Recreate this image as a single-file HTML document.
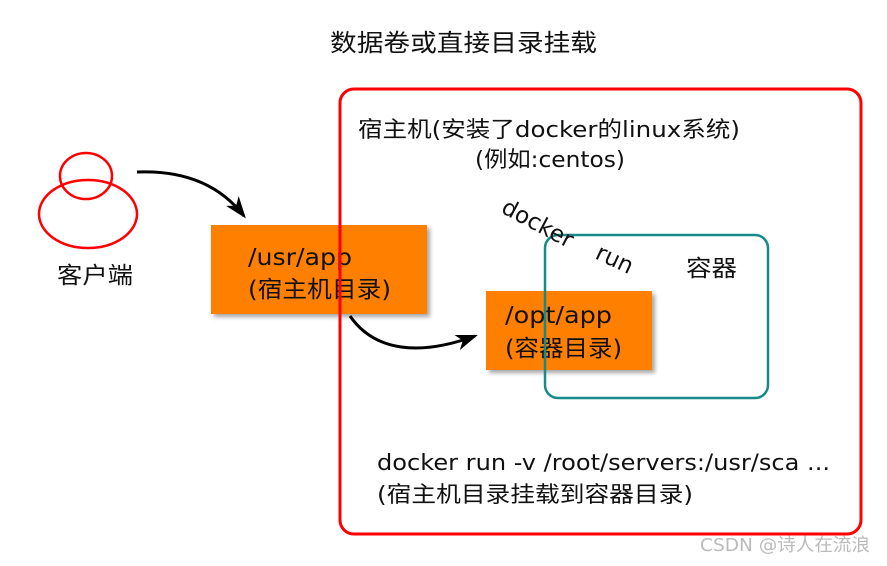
<!DOCTYPE html>
<html><head><meta charset="utf-8"><style>
body{margin:0;background:#fff;}
svg text{font-family:"DejaVu Sans","Noto Sans CJK SC",sans-serif;fill:#111;}
</style></head><body>
<svg width="887" height="561" viewBox="0 0 887 561" xmlns="http://www.w3.org/2000/svg">
<defs>
<filter id="sh" x="-10%" y="-10%" width="130%" height="130%"><feDropShadow dx="3" dy="3" stdDeviation="2" flood-color="#000" flood-opacity="0.35"/></filter>
<marker id="ah" markerWidth="22" markerHeight="16" refX="19" refY="8" orient="auto" markerUnits="userSpaceOnUse"><path d="M0,0 L22,8 L0,16 L6,8 Z" fill="#000"/></marker>
</defs>
<text x="330" y="51" font-size="24" textLength="267" lengthAdjust="spacingAndGlyphs">数据卷或直接目录挂载</text>
<rect x="211" y="225" width="216" height="89" fill="#ff8000" filter="url(#sh)"/>
<text x="248" y="265" font-size="23" textLength="104" lengthAdjust="spacingAndGlyphs">/usr/app</text>
<text x="248" y="297" font-size="23" textLength="143" lengthAdjust="spacingAndGlyphs">(宿主机目录)</text>
<rect x="340" y="89" width="521" height="445" rx="14" fill="none" stroke="#f00" stroke-width="3"/>
<ellipse cx="86" cy="176" rx="26" ry="23" fill="none" stroke="#f00" stroke-width="2.5"/>
<ellipse cx="88" cy="214" rx="49" ry="34" fill="none" stroke="#f00" stroke-width="2.5"/>
<text x="57" y="283" font-size="23" textLength="76" lengthAdjust="spacingAndGlyphs">客户端</text>
<path d="M137,172 C185,170 220,185 244,216" fill="none" stroke="#000" stroke-width="3" marker-end="url(#ah)"/>
<path d="M350,316 C375,352 420,356 475,336" fill="none" stroke="#000" stroke-width="3" marker-end="url(#ah)"/>
<text x="358" y="137" font-size="22" textLength="382" lengthAdjust="spacingAndGlyphs">宿主机(安装了docker的linux系统)</text>
<text x="475" y="167" font-size="22" textLength="150" lengthAdjust="spacingAndGlyphs">(例如:centos)</text>
<rect x="486" y="291" width="166" height="79" fill="#ff8000" filter="url(#sh)"/>
<text x="505" y="323" font-size="23" textLength="107" lengthAdjust="spacingAndGlyphs">/opt/app</text>
<text x="505" y="356" font-size="23" textLength="117" lengthAdjust="spacingAndGlyphs">(容器目录)</text>
<rect x="545" y="235" width="223" height="163" rx="13" fill="none" stroke="#178a8a" stroke-width="2.5"/>
<text x="0" y="0" font-size="23" transform="translate(500,212) rotate(28)">docker</text>
<text x="0" y="0" font-size="23" transform="translate(594,258) rotate(25)">run</text>
<text x="686" y="276" font-size="23" textLength="51" lengthAdjust="spacingAndGlyphs">容器</text>
<text x="377" y="470" font-size="22" textLength="453" lengthAdjust="spacingAndGlyphs">docker run -v /root/servers:/usr/sca ...</text>
<text x="377" y="502" font-size="22" textLength="316" lengthAdjust="spacingAndGlyphs">(宿主机目录挂载到容器目录)</text>
<text x="700" y="551" font-size="18" textLength="170" lengthAdjust="spacingAndGlyphs" style="fill:#bbb">CSDN @诗人在流浪</text>
</svg>
</body></html>
